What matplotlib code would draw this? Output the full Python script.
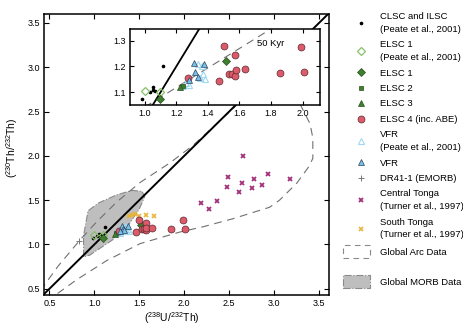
import matplotlib
matplotlib.use('Agg')
import matplotlib.pyplot as plt
from matplotlib.patches import Polygon, Patch

plt.rcParams['font.family'] = ['Liberation Sans', 'DejaVu Sans']
plt.rcParams['mathtext.fontset'] = 'custom'
plt.rcParams['mathtext.rm'] = 'Liberation Sans'

# ----------------------------- DATA ------------------------------------------
equi = [0.3, 3.8]

clsc_x = [0.98, 1.035, 1.05, 1.055, 1.065, 1.115]
clsc_y = [1.075, 1.10, 1.11, 1.12, 1.105, 1.20]

elsc1p_x = [1.00, 1.10]
elsc1p_y = [1.107, 1.102]

elsc1_x = [1.097, 1.515]
elsc1_y = [1.073, 1.222]

elsc2_x = [1.24]
elsc2_y = [1.124]

elsc3_x = [1.225]
elsc3_y = [1.120]

elsc4_x = [1.50, 1.57, 1.276, 1.468, 1.532, 1.553, 1.572, 1.580, 1.637, 1.856, 1.99, 2.006]
elsc4_y = [1.280, 1.245, 1.155, 1.143, 1.171, 1.171, 1.164, 1.185, 1.190, 1.174, 1.274, 1.177]

vfrp_x = [1.34, 1.36, 1.37, 1.35, 1.38, 1.26, 1.28, 1.24]
vfrp_y = [1.21, 1.20, 1.17, 1.155, 1.15, 1.135, 1.13, 1.125]

vfr_x = [1.312, 1.377, 1.32, 1.335, 1.28]
vfr_y = [1.212, 1.208, 1.177, 1.160, 1.147]

dr41_x = [0.83]
dr41_y = [1.04]

ctonga_x = [2.655, 2.49, 2.647, 2.773, 2.932, 3.173, 2.476, 2.607, 2.751, 2.862, 2.19, 2.366, 2.277]
ctonga_y = [1.995, 1.762, 1.699, 1.744, 1.793, 1.736, 1.644, 1.587, 1.639, 1.669, 1.47, 1.492, 1.395]

stonga_x = [1.38, 1.42, 1.45, 1.50, 1.57, 1.66]
stonga_y = [1.32, 1.33, 1.34, 1.32, 1.33, 1.32]

arc_x = [0.40, 0.60, 0.84, 1.03, 1.25, 1.51, 1.84, 2.10, 2.54, 2.75, 3.10, 3.28, 3.34, 3.40, 3.43,
         3.43, 3.38, 3.25, 3.06, 2.95, 2.54, 2.21, 1.95, 1.51, 1.14, 0.80, 0.54, 0.48]
arc_y = [0.48, 0.76, 1.05, 1.26, 1.48, 1.70, 1.92, 2.12, 2.53, 2.75, 2.90, 2.60, 2.48, 2.36, 2.20,
         1.97, 1.87, 1.69, 1.50, 1.42, 1.29, 1.20, 1.14, 1.01, 0.82, 0.60, 0.41, 0.36]

morb_x = [0.88, 0.88, 0.93, 1.05, 1.25, 1.42, 1.53, 1.56, 1.50, 1.38, 1.20, 0.95]
morb_y = [0.86, 1.10, 1.38, 1.47, 1.56, 1.61, 1.60, 1.54, 1.40, 1.22, 1.05, 0.88]

iso_x = [1.00, 1.82]
iso_y = [1.043, 1.353]

# ----------------------------- STYLES ----------------------------------------
red = '#DD5A6A'
dkgreen = '#3F7F2E'
ltgreen = '#86C06A'
blue = '#78C0E6'
ltblue = '#9ED8F2'
purple = '#A2307A'
yellow = '#E9B43C'

def draw_points(ax, with_tonga):
    h = []
    h += ax.plot(clsc_x, clsc_y, 'o', ms=1.6, color='k', ls='none', label='CLSC and ILSC\n(Peate et al., 2001)', zorder=5)
    h += ax.plot(elsc1p_x, elsc1p_y, 'D', ms=3.6, mfc='none', mec=ltgreen, mew=0.9, ls='none', label='ELSC 1\n(Peate et al., 2001)', zorder=5)
    h += ax.plot(elsc1_x, elsc1_y, 'D', ms=3.8, mfc=dkgreen, mec='#2a4f20', mew=0.5, ls='none', label='ELSC 1', zorder=6)
    h += ax.plot(elsc2_x, elsc2_y, 's', ms=3.0, mfc=dkgreen, mec='#2a4f20', mew=0.5, ls='none', label='ELSC 2', zorder=6)
    h += ax.plot(elsc3_x, elsc3_y, '^', ms=4.2, mfc=dkgreen, mec='#2a4f20', mew=0.5, ls='none', label='ELSC 3', zorder=6)
    h += ax.plot(elsc4_x, elsc4_y, 'o', ms=5.0, mfc=red, mec='#5a2a2f', mew=0.5, ls='none', label='ELSC 4 (inc. ABE)', zorder=6)
    h += ax.plot(vfrp_x, vfrp_y, '^', ms=4.6, mfc='none', mec=ltblue, mew=0.8, ls='none', label='VFR\n(Peate et al., 2001)', zorder=5)
    h += ax.plot(vfr_x, vfr_y, '^', ms=4.8, mfc=blue, mec='#2c4660', mew=0.5, ls='none', label='VFR', zorder=6)
    if with_tonga:
        h += ax.plot(dr41_x, dr41_y, '+', ms=4.0, color='#777777', mew=0.7, ls='none', label='DR41-1 (EMORB)', zorder=5)
        h += ax.plot(ctonga_x, ctonga_y, 'x', ms=3.2, color=purple, mew=1.3, ls='none', label='Central Tonga\n(Turner et al., 1997)', zorder=5)
        h += ax.plot(stonga_x, stonga_y, 'x', ms=3.2, color=yellow, mew=1.2, ls='none', label='South Tonga\n(Turner et al., 1997)', zorder=5)
    return h

fig = plt.figure(figsize=(4.63, 3.30), dpi=100)

# ----------------------------- MAIN PLOT -------------------------------------
ax = fig.add_axes([44 / 463, 1 - 295 / 330, 285 / 463, 281 / 330])
ax.add_patch(Polygon(list(zip(morb_x, morb_y)), closed=True, facecolor='#BEBEBE',
                     edgecolor='#8a8a8a', lw=0.8, ls='-.', zorder=1))
ax.add_patch(Polygon(list(zip(arc_x, arc_y)), closed=True, facecolor='none',
                     edgecolor='#707070', lw=0.8, ls=(0, (7, 5)), zorder=2))
ax.plot(equi, equi, color='k', lw=1.4, zorder=3)
handles = draw_points(ax, True)

ax.set_xlim(0.44, 3.61)
ax.set_ylim(0.43, 3.60)
ax.set_xticks([0.5, 1.0, 1.5, 2.0, 2.5, 3.0, 3.5])
ax.set_yticks([0.5, 1.0, 1.5, 2.0, 2.5, 3.0, 3.5])
ax.tick_params(direction='in', top=True, right=True, length=3.5, width=0.8, labelsize=6.5, pad=3)
for s in ax.spines.values():
    s.set_linewidth(1.1)
ax.set_xlabel(r'($\mathregular{^{238}}$U/$\mathregular{^{232}}$Th)', fontsize=7.5)
ax.set_ylabel(r'($\mathregular{^{230}}$Th/$\mathregular{^{232}}$Th)', fontsize=7.5)
ax.xaxis.set_label_coords(0.449, -0.055)
ax.yaxis.set_label_coords(-0.085, 0.523)

# ----------------------------- INSET -----------------------------------------
ins = fig.add_axes([130 / 463, 1 - 105 / 330, 190 / 463, 76 / 330], zorder=10)
ins.set_facecolor('white')
ins.plot(equi, equi, color='k', lw=1.3, zorder=3)
ins.plot(iso_x, iso_y, color='#707070', lw=0.8, ls=(0, (7, 5)), zorder=2)
draw_points(ins, False)
ins.text(1.71, 1.29, '50 Kyr', fontsize=6.8, va='center', ha='left')
ins.set_xlim(0.907, 2.11)
ins.set_ylim(1.051, 1.345)
ins.set_xticks([1.0, 1.2, 1.4, 1.6, 1.8, 2.0])
ins.set_yticks([1.1, 1.2, 1.3])
ins.tick_params(direction='in', top=True, right=True, length=3.0, width=0.8, labelsize=6.5, pad=3)
for s in ins.spines.values():
    s.set_linewidth(1.1)

# ----------------------------- LEGENDS ---------------------------------------
leg1 = fig.legend(handles=handles, loc='upper left', bbox_to_anchor=(355 / 463, 1 - 12 / 330),
                  frameon=False, fontsize=6.8, borderpad=0, borderaxespad=0,
                  handlelength=1.2, handletextpad=1.4, labelspacing=0.68, numpoints=1)
for t in leg1.get_texts():
    t.set_linespacing(1.55)

arc_h = Patch(facecolor='white', edgecolor='#8a8a8a', lw=0.8, ls=(0, (5, 4)), label='Global Arc Data')
morb_h = Patch(facecolor='#BEBEBE', edgecolor='#8a8a8a', lw=0.8, ls='-.', label='Global MORB Data')
leg2 = fig.legend(handles=[arc_h, morb_h], loc='upper left', bbox_to_anchor=(343 / 463, 1 - 245 / 330),
                  frameon=False, fontsize=6.8, borderpad=0, borderaxespad=0,
                  handlelength=2.9, handleheight=1.8, handletextpad=1.05, labelspacing=1.75)

fig.savefig('out.png', dpi=100)
